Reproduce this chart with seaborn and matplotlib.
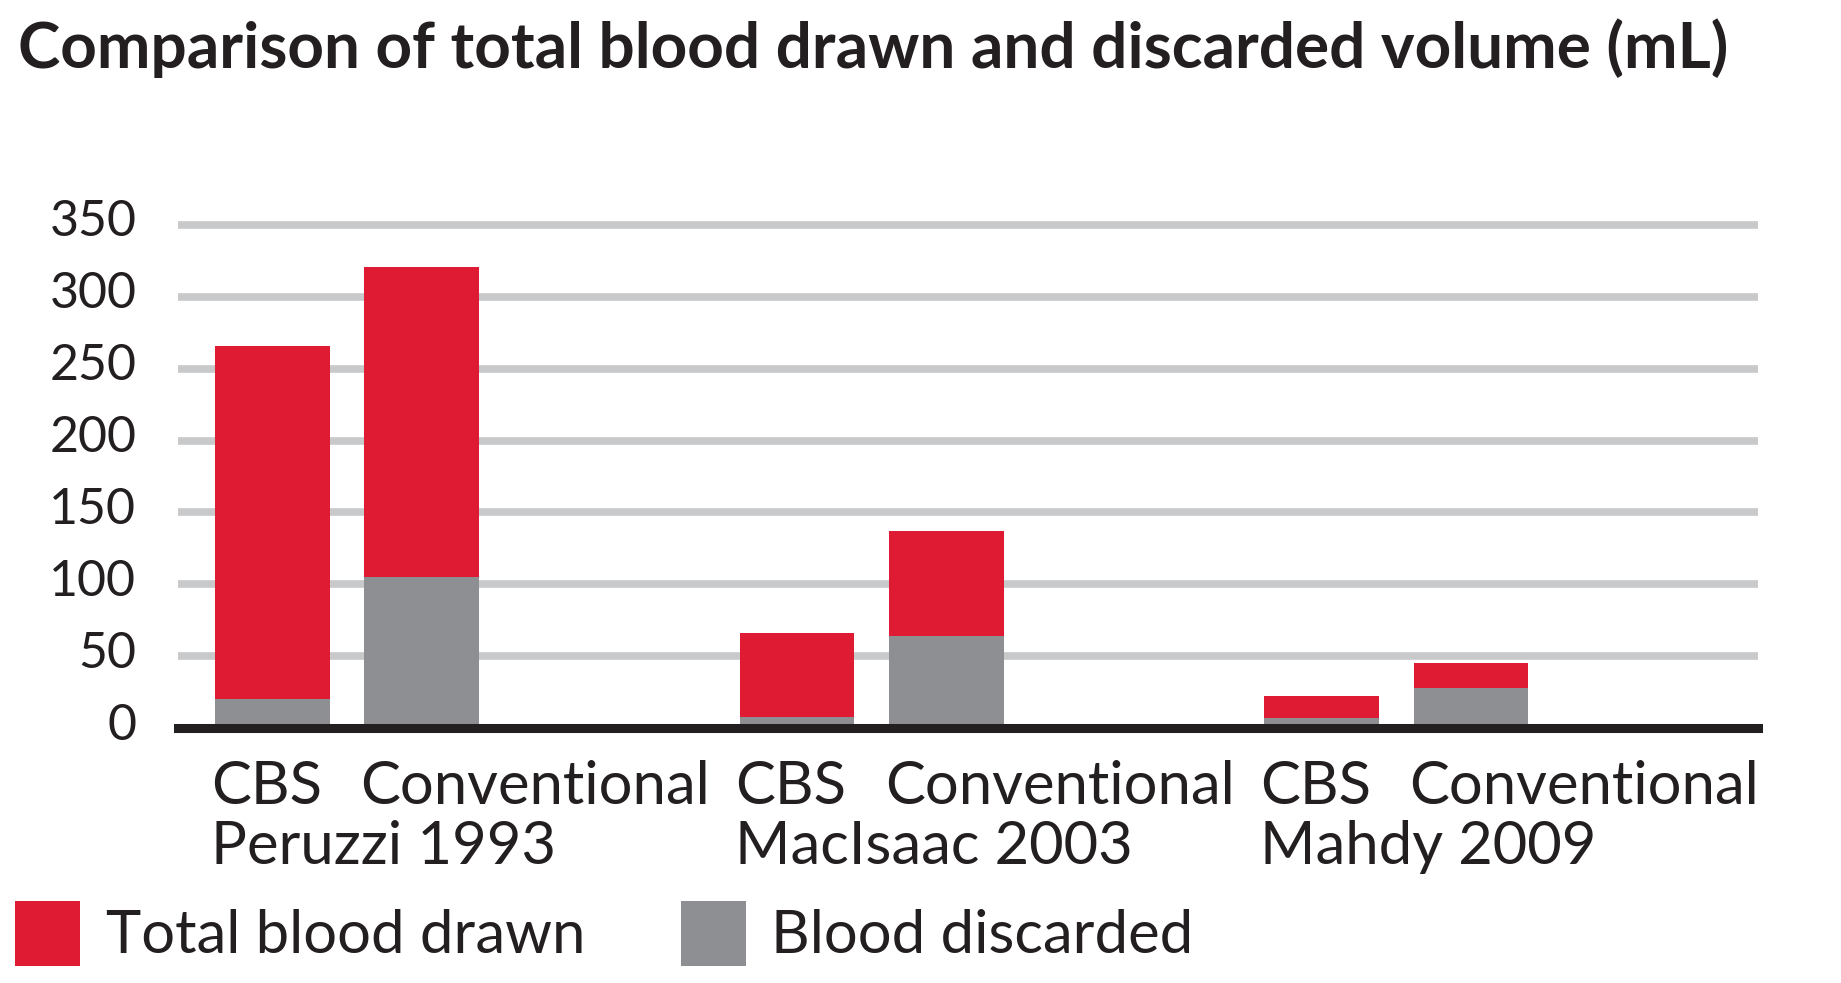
import numpy as np
import pandas as pd
import seaborn as sns
from matplotlib import pyplot as plt
from matplotlib.patches import Patch
from matplotlib.transforms import ScaledTranslation, blended_transform_factory

# data (mL)
studies = ["Peruzzi 1993", "MacIsaac 2003", "Mahdy 2009"]
methods = ["CBS", "Conventional"]
total_drawn = [266, 321, 66, 137, 22, 45]
blood_discarded = [20, 105, 8, 64, 7, 28]
y_ticks = [0, 50, 100, 150, 200, 250, 300, 350]

RED = "#df1b33"
GREY = "#8e8f92"
GRID = "#c8c9cb"
INK = "#231f20"

TITLE_SIZE = 46
LABEL_SIZE = 43
TICK_SIZE = 36
LEGEND_SIZE = 43

sns.set_style("white")
plt.rcParams["font.family"] = ["Lato", "DejaVu Sans"]

df = pd.DataFrame(
    {
        "study": np.repeat(studies, len(methods)),
        "method": methods * len(studies),
        "total": total_drawn,
        "discarded": blood_discarded,
    }
)

# third (empty) hue slot leaves the gap after each study, like the original
hue_order = methods + ["spacer"]
group_width = 0.853
gap = 0.231
slot = group_width / len(hue_order)
bar_w = slot * (1 - gap)

fig = plt.figure(figsize=(18.41, 9.83), dpi=100)
ax = fig.add_axes([178 / 1841, 1 - 728 / 983, 1580 / 1841, 517.4 / 983])

for col, color in [("total", RED), ("discarded", GREY)]:
    sns.barplot(
        data=df,
        x="study",
        y=col,
        hue="method",
        hue_order=hue_order,
        order=studies,
        palette=[color] * len(hue_order),
        width=group_width,
        gap=gap,
        saturation=1,
        errorbar=None,
        legend=False,
        linewidth=0,
        ax=ax,
    )

ax.set_xlim(-0.464, 2.547)
ax.set_ylim(0, 360)
ax.set_yticks(y_ticks)
ax.set_xticks([])
ax.set_xlabel("")
ax.set_ylabel("")

ax.set_axisbelow(True)
ax.grid(axis="y", color=GRID, linewidth=5.5)
ax.grid(axis="x", visible=False)
for side in ["top", "left", "right"]:
    ax.spines[side].set_visible(False)
ax.spines["bottom"].set_color(INK)
ax.spines["bottom"].set_linewidth(6.5)
ax.spines["bottom"].set_zorder(5)

ax.tick_params(axis="y", length=0, pad=30, labelsize=TICK_SIZE, labelcolor=INK)
for lab in ax.get_yticklabels():
    lab.set_transform(lab.get_transform() + ScaledTranslation(0, 0.07, fig.dpi_scale_trans))

# two-line category labels under the axis
trans = blended_transform_factory(ax.transData, fig.transFigure)
for i, study in enumerate(studies):
    for j, method in enumerate(methods):
        left = i + (j - 1) * slot - bar_w / 2 - 0.008
        ax.text(left, 1 - 804 / 983, method, transform=trans, ha="left",
                va="baseline", fontsize=LABEL_SIZE, color=INK)
    left = i - slot - bar_w / 2 - 0.008
    ax.text(left, 1 - 864 / 983, study, transform=trans, ha="left",
            va="baseline", fontsize=LABEL_SIZE, color=INK)

fig.text(18 / 1841, 1 - 68 / 983, "Comparison of total blood drawn and discarded volume (mL)",
         ha="left", va="baseline", fontsize=TITLE_SIZE, fontweight="bold", color=INK)

handles = [Patch(facecolor=RED, edgecolor="none"), Patch(facecolor=GREY, edgecolor="none")]
fig.legend(
    handles,
    ["Total blood drawn", "Blood discarded"],
    loc="lower left",
    bbox_to_anchor=(15 / 1841, 1 - 966 / 983),
    ncol=2,
    frameon=False,
    fontsize=LEGEND_SIZE,
    handlelength=1.09,
    handleheight=1.3,
    handletextpad=0.43,
    columnspacing=1.6,
    borderpad=0,
    borderaxespad=0,
    labelcolor=INK,
)

fig.savefig("out.png", dpi=100)
